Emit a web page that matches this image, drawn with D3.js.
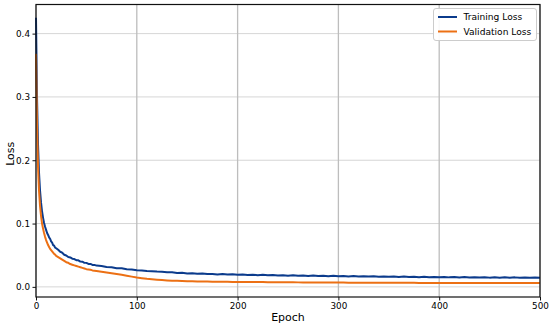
<!DOCTYPE html>
<html><head><meta charset="utf-8">
<script src="https://cdn.jsdelivr.net/npm/d3@7"></script>
<style>body{margin:0;background:#fff}svg{display:block}text{font-family:"DejaVu Sans",sans-serif}</style>
</head><body><svg id="c" width="550" height="327"></svg>
<script>
const epochs = [0,1,2,3,4,5,6,7,8,9,10,11,12,13,14,15,16,17,18,19,20,
22,24,26,28,30,32,34,36,38,40,42,44,46,48,50,52,54,56,58,60,
65,70,75,80,85,90,95,100,105,110,115,120,125,130,135,140,145,150,
155,160,165,170,175,180,185,190,195,200,205,210,215,220,225,230,235,240,245,250,
255,260,265,270,275,280,285,290,295,300,305,310,315,320,325,330,335,340,345,350,
355,360,365,370,375,380,385,390,395,400,405,410,415,420,425,430,435,440,445,450,
455,460,465,470,475,480,485,490,495,500];
const trainingLoss = [0.425,0.300,0.225,0.180,0.152,0.133,0.119,0.109,0.101,0.095,0.090,0.085,0.082,0.078,0.076,0.072,0.070,0.066,0.065,0.062,0.061,
0.0585,0.0555,0.0540,0.0508,0.0496,0.0472,0.0465,0.0445,0.0440,0.0422,0.0420,0.0400,0.0398,0.0380,0.0379,0.0362,0.0363,0.0347,0.0347,0.0336,
0.0330,0.0314,0.0309,0.0294,0.0293,0.0277,0.0275,0.0262,0.0260,0.0250,0.0248,0.0241,0.0238,0.0230,0.0231,0.0220,0.0223,0.0213,
0.0215,0.0207,0.0212,0.0202,0.0205,0.0197,0.0203,0.0194,0.0199,0.0191,0.0197,0.0188,0.0193,0.0185,0.0191,0.0182,0.0188,0.0180,0.0185,0.0177,
0.0183,0.0175,0.0180,0.0173,0.0179,0.0171,0.0176,0.0169,0.0175,0.0167,0.0173,0.0165,0.0170,0.0163,0.0169,0.0162,0.0168,0.0160,0.0165,0.0158,
0.0163,0.0156,0.0162,0.0155,0.0160,0.0153,0.0159,0.0152,0.0157,0.0151,0.0156,0.0150,0.0155,0.0149,0.0154,0.0148,0.0153,0.0147,0.0152,0.0146,
0.0151,0.0146,0.0150,0.0145,0.0150,0.0144,0.0149,0.0144,0.0148,0.0145];
const validationLoss = [0.368,0.255,0.190,0.152,0.128,0.112,0.100,0.092,0.085,0.079,0.074,0.070,0.066,0.063,0.060,0.058,0.056,0.054,0.052,0.051,0.049,
0.047,0.045,0.043,0.041,0.039,0.038,0.036,0.035,0.034,0.033,0.032,0.031,0.030,0.029,0.028,0.0275,0.027,0.026,0.0255,0.025,
0.0238,0.0226,0.0214,0.0202,0.0190,0.0177,0.0162,0.0148,0.0138,0.0128,0.0120,0.0113,0.0107,0.0102,0.0098,0.0095,0.0092,0.0090,
0.0088,0.0086,0.0085,0.0083,0.0082,0.0081,0.0080,0.0079,0.0078,0.0077,0.0077,0.0076,0.0076,0.0075,0.0075,0.0074,0.0074,0.0073,0.0073,0.0072,
0.0072,0.0071,0.0071,0.0070,0.0070,0.0070,0.0069,0.0069,0.0068,0.0068,0.0068,0.0067,0.0067,0.0067,0.0066,0.0066,0.0066,0.0065,0.0065,0.0065,
0.0065,0.0064,0.0064,0.0064,0.0064,0.0063,0.0063,0.0063,0.0063,0.0063,0.0062,0.0062,0.0062,0.0062,0.0062,0.0061,0.0061,0.0061,0.0061,0.0061,
0.0061,0.0061,0.0060,0.0060,0.0060,0.0060,0.0060,0.0060,0.0060,0.0060];
const xTicks = [0,100,200,300,400,500];
const yTicks = [0.0,0.1,0.2,0.3,0.4];
const seriesNames = ["Training Loss","Validation Loss"];
const colors = ["#0b3b8c","#ec7014"];

const svg = d3.select("#c");
const L=36, R=540, T=4.5, B=297;
const x = d3.scaleLinear().domain([0,500]).range([L,R]);
const y = d3.scaleLinear().domain([-0.016,0.446]).range([B,T]);

svg.append("g").selectAll("line").data(yTicks).join("line")
  .attr("x1",L).attr("x2",R).attr("y1",d=>y(d)).attr("y2",d=>y(d))
  .attr("stroke","#d6d6d6").attr("stroke-width",1);
svg.append("g").selectAll("line").data(xTicks).join("line")
  .attr("y1",T).attr("y2",B).attr("x1",d=>x(d)).attr("x2",d=>x(d))
  .attr("stroke","#bdbdbd").attr("stroke-width",1.3);

const line = d3.line().x((d,i)=>x(epochs[i])).y(d=>y(d));
[trainingLoss, validationLoss].forEach((s,k)=>{
  svg.append("path").datum(s).attr("d",line).attr("fill","none")
    .attr("stroke",colors[k]).attr("stroke-width",2).attr("stroke-linejoin","round");
});
svg.append("rect").attr("x",L).attr("y",T).attr("width",R-L).attr("height",B-T)
  .attr("fill","none").attr("stroke","#111").attr("stroke-width",1.2);

const xa = svg.append("g").attr("transform",`translate(0,${B})`)
  .call(d3.axisBottom(x).tickValues(xTicks).tickFormat(d3.format("d")).tickSizeOuter(0).tickSize(3.5).tickPadding(2));
const ya = svg.append("g").attr("transform",`translate(${L},0)`)
  .call(d3.axisLeft(y).tickValues(yTicks).tickFormat(d3.format(".1f")).tickSizeOuter(0).tickSize(3.5).tickPadding(2.5));
[xa,ya].forEach(a=>{a.select(".domain").remove();
  a.selectAll("text").attr("font-size","8.8px").attr("fill","#000");
  a.selectAll("line").attr("stroke","#111");});

svg.append("text").attr("x",(L+R)/2).attr("y",321).attr("text-anchor","middle")
  .attr("font-size","11px").attr("fill","#000").text("Epoch");
svg.append("text").attr("transform",`translate(14,${(T+B)/2+3}) rotate(-90)`).attr("text-anchor","middle")
  .attr("font-size","11px").attr("fill","#000").text("Loss");

const lg = svg.append("g");
lg.append("rect").attr("x",433.5).attr("y",8.5).attr("width",103).attr("height",32).attr("rx",2.5)
  .attr("fill","#fff").attr("fill-opacity",0.9).attr("stroke","#ccc");
seriesNames.forEach((n,i)=>{
  const yy = 17+i*14.5;
  lg.append("line").attr("x1",438).attr("x2",457).attr("y1",yy).attr("y2",yy)
    .attr("stroke",colors[i]).attr("stroke-width",2);
  lg.append("text").attr("x",463.5).attr("y",yy+3.3).attr("font-size","9.1px").attr("fill","#000")
    .text(n);
});
</script></body></html>
